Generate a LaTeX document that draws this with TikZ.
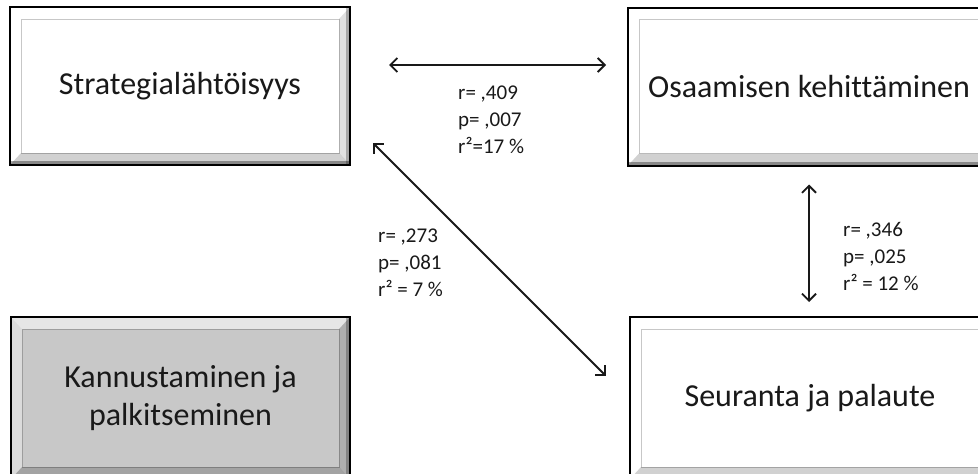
\documentclass[tikz,border=0pt]{standalone}
\usepackage{fontspec}
\setmainfont{Carlito}[Ligatures=NoCommon]
\usetikzlibrary{arrows.meta}

\definecolor{ink}{RGB}{25,25,25}
\definecolor{panelgray}{RGB}{200,200,200}

\tikzset{
  % bevelled panel: outer frame, lit top/left, shaded bottom/right, inner rule
  bevel/.style={
    path picture={
      \coordinate (bnw) at (path picture bounding box.north west);
      \coordinate (bne) at (path picture bounding box.north east);
      \coordinate (bsw) at (path picture bounding box.south west);
      \coordinate (bse) at (path picture bounding box.south east);
      \fill[white,fill opacity=0.55] (bnw) -- (bne) -- ([xshift=-11pt,yshift=-12pt]bne) -- ([xshift=11pt,yshift=-12pt]bnw) -- cycle;
      \fill[white,fill opacity=0.35] (bnw) -- (bsw) -- ([xshift=11pt,yshift=12pt]bsw) -- ([xshift=11pt,yshift=-12pt]bnw) -- cycle;
      \fill[black,fill opacity=0.12] (bne) -- (bse) -- ([xshift=-11pt,yshift=12pt]bse) -- ([xshift=-11pt,yshift=-12pt]bne) -- cycle;
      \fill[black,fill opacity=0.18] (bsw) -- (bse) -- ([xshift=-11pt,yshift=12pt]bse) -- ([xshift=11pt,yshift=12pt]bsw) -- cycle;
      \fill[black,fill opacity=0.35] (bsw) rectangle ([yshift=4pt]bse);
      \fill[black,fill opacity=0.25] ([xshift=-4pt]bse) rectangle (bne);
      \draw[black,draw opacity=0.22,line width=0.9pt]
        ([xshift=11pt,yshift=12pt]bsw) rectangle ([xshift=-11pt,yshift=-12pt]bne);
    }},
  panel/.style={
    rectangle, draw=black, line width=2pt, fill=#1, bevel,
    inner sep=0pt, text=ink, align=center,
    font=\fontsize{32}{38}\selectfont},
  panel/.default=white,
  link/.style={
    draw=ink, line width=1.8pt,
    {Straight Barb[length=7pt,width=14pt]}-{Straight Barb[length=7pt,width=14pt]}},
  stat/.style={
    anchor=north west, inner sep=0pt, align=left, text=ink,
    font=\fontsize{21}{27}\selectfont}
}

\begin{document}
\begin{tikzpicture}[x=1pt,y=-1pt]
  \clip (0,0) rectangle (978,474);
  \fill[white] (0,0) rectangle (978,474);

  % the four concept boxes
  \node[panel, minimum width=340pt, minimum height=158pt] (s)  at (180,86)    {Strategialähtöisyys};
  \node[panel, minimum width=362pt, minimum height=158pt] (o)  at (809,86.5)  {Osaamisen kehittäminen};
  \node[panel=panelgray, minimum width=339pt, minimum height=162pt] (k) at (180.5,398) {Kannustaminen ja\\palkitseminen};
  \node[panel, minimum width=360pt, minimum height=162pt] (sp) at (810,398)   {Seuranta ja palaute};

  % correlations between the boxes
  \draw[link, shorten <=38pt, shorten >=21pt]
    ([yshift=21pt]s.east) -- ([yshift=21pt]s.east -| o.west);
  \draw[link]
    ([xshift=22pt,yshift=23pt]s.south east) -- ([xshift=-23pt,yshift=-60pt]sp.north west);
  \draw[link, shorten <=18pt, shorten >=14pt]
    (o.south) -- (o.south |- sp.north);

  % statistics
  \node[stat] (l1) at (458,86)  {r= ,409\\p= ,007\\r²=17 \%};
  \node[stat] (l2) at (378,229) {r= ,273\\p= ,081\\r² = 7 \%};
  \node[stat] (l3) at (843,222) {r= ,346\\p= ,025\\r² = 12 \%};
\end{tikzpicture}
\end{document}
